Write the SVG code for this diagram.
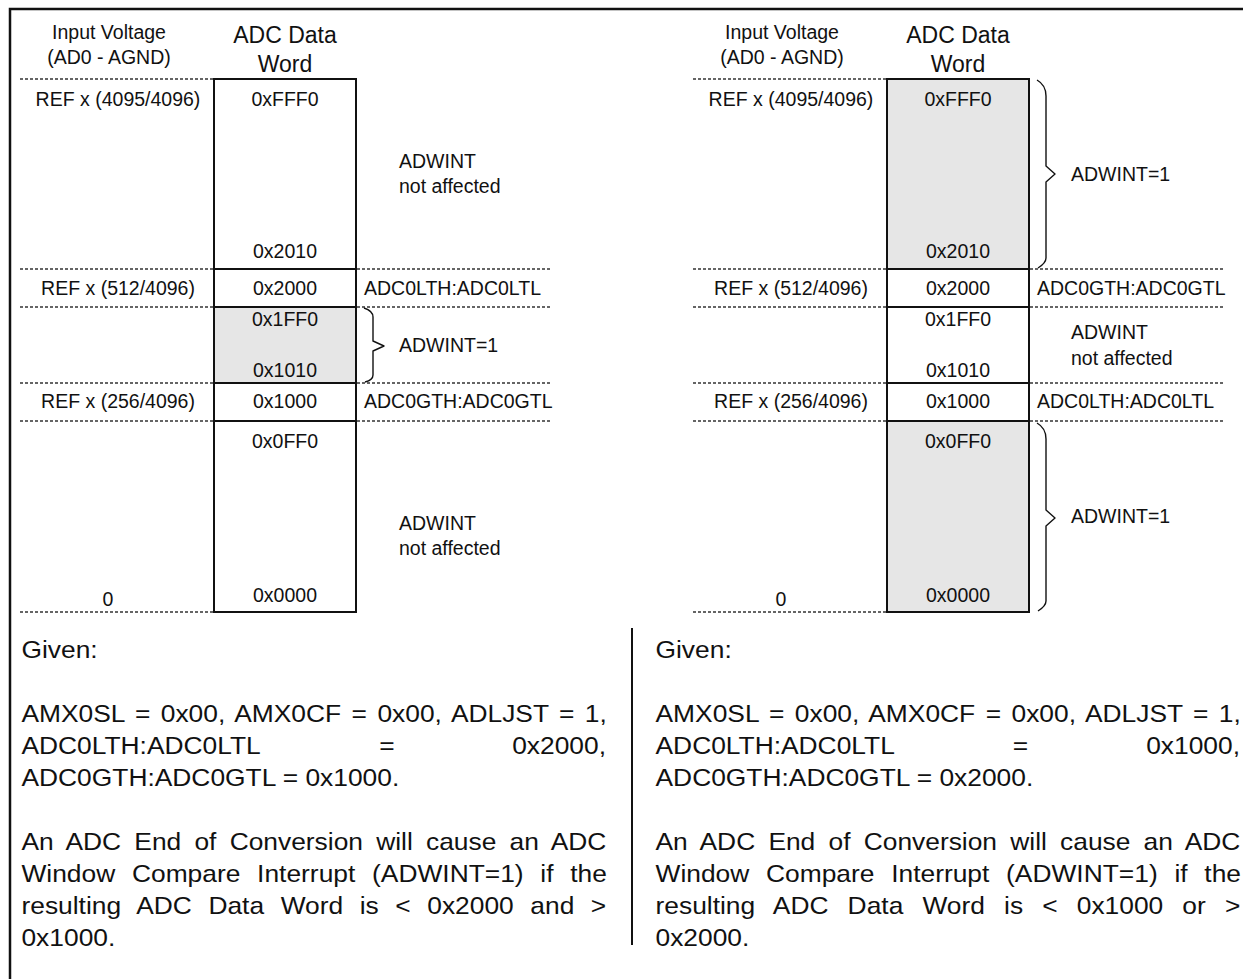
<svg xmlns="http://www.w3.org/2000/svg" width="1243" height="979" viewBox="0 0 1243 979">
<style>
text{font-family:"Liberation Sans",Arial,sans-serif;fill:#111}
.t{font-size:19.5px}
.h{font-size:23px}
.c{text-anchor:middle}
.p{font-size:24.2px}
.box{fill:none;stroke:#111;stroke-width:2}
.sep{stroke:#111;stroke-width:2}
.dash{stroke:#333;stroke-width:1.3;stroke-dasharray:3 2;fill:none}
.gray{fill:#e6e6e6}
.brace{fill:none;stroke:#111;stroke-width:1.4;stroke-linejoin:round}
.frame{stroke:#111;stroke-width:2.5;fill:none}
</style>

<g id="frame">
<path class="frame" d="M10,979 V9 H1243"/>
<line class="sep" x1="632" y1="628" x2="632" y2="945"/>
</g>

<g id="left-diagram">
<rect class="gray" x="214" y="307" width="142" height="76"/>
<g id="left-dashes">
<line class="dash" x1="20" y1="79" x2="213" y2="79"/>
<line class="dash" x1="20" y1="269" x2="213" y2="269"/>
<line class="dash" x1="357" y1="269" x2="552" y2="269"/>
<line class="dash" x1="20" y1="307" x2="213" y2="307"/>
<line class="dash" x1="357" y1="307" x2="552" y2="307"/>
<line class="dash" x1="20" y1="383" x2="213" y2="383"/>
<line class="dash" x1="357" y1="383" x2="552" y2="383"/>
<line class="dash" x1="20" y1="421" x2="213" y2="421"/>
<line class="dash" x1="357" y1="421" x2="552" y2="421"/>
<line class="dash" x1="20" y1="612" x2="213" y2="612"/>
</g>
<rect class="box" x="214" y="79" width="142" height="533"/>
<line class="sep" x1="214" y1="269" x2="356" y2="269"/>
<line class="sep" x1="214" y1="307" x2="356" y2="307"/>
<line class="sep" x1="214" y1="383" x2="356" y2="383"/>
<line class="sep" x1="214" y1="421" x2="356" y2="421"/>
<path class="brace" d="M364,308 Q373,311 373,317 V341 L384,346 L373,351 V375 Q373,380 365,382"/>
<text class="t c" x="109" y="39">Input Voltage</text>
<text class="t c" x="109" y="64">(AD0 - AGND)</text>
<text class="h c" x="285" y="43">ADC Data</text>
<text class="h c" x="285" y="72">Word</text>
<text class="t c" x="118" y="106">REF x (4095/4096)</text>
<text class="t c" x="285" y="106">0xFFF0</text>
<text class="t" x="399" y="168">ADWINT</text>
<text class="t" x="399" y="193">not affected</text>
<text class="t c" x="285" y="258">0x2010</text>
<text class="t c" x="118" y="295">REF x (512/4096)</text>
<text class="t c" x="285" y="295">0x2000</text>
<text class="t" x="364" y="295">ADC0LTH:ADC0LTL</text>
<text class="t c" x="285" y="326">0x1FF0</text>
<text class="t" x="399" y="352">ADWINT=1</text>
<text class="t c" x="285" y="377">0x1010</text>
<text class="t c" x="118" y="408">REF x (256/4096)</text>
<text class="t c" x="285" y="408">0x1000</text>
<text class="t" x="364" y="408">ADC0GTH:ADC0GTL</text>
<text class="t c" x="285" y="448">0x0FF0</text>
<text class="t" x="399" y="530">ADWINT</text>
<text class="t" x="399" y="555">not affected</text>
<text class="t c" x="108" y="606">0</text>
<text class="t c" x="285" y="602">0x0000</text>
</g>

<g id="right-diagram">
<rect class="gray" x="887" y="79" width="142" height="190"/>
<rect class="gray" x="887" y="421" width="142" height="191"/>
<g id="right-dashes">
<line class="dash" x1="693" y1="79" x2="886" y2="79"/>
<line class="dash" x1="693" y1="269" x2="886" y2="269"/>
<line class="dash" x1="1030" y1="269" x2="1225" y2="269"/>
<line class="dash" x1="693" y1="307" x2="886" y2="307"/>
<line class="dash" x1="1030" y1="307" x2="1225" y2="307"/>
<line class="dash" x1="693" y1="383" x2="886" y2="383"/>
<line class="dash" x1="1030" y1="383" x2="1225" y2="383"/>
<line class="dash" x1="693" y1="421" x2="886" y2="421"/>
<line class="dash" x1="1030" y1="421" x2="1225" y2="421"/>
<line class="dash" x1="693" y1="612" x2="886" y2="612"/>
</g>
<rect class="box" x="887" y="79" width="142" height="533"/>
<line class="sep" x1="887" y1="269" x2="1029" y2="269"/>
<line class="sep" x1="887" y1="307" x2="1029" y2="307"/>
<line class="sep" x1="887" y1="383" x2="1029" y2="383"/>
<line class="sep" x1="887" y1="421" x2="1029" y2="421"/>
<path class="brace" d="M1037,80 Q1046,85 1046,96 V166 L1055,174 L1046,182 V258 Q1046,263 1038,268"/>
<path class="brace" d="M1037,423 Q1046,428 1046,439 V510 L1055,518 L1046,526 V601 Q1046,606 1038,611"/>
<text class="t c" x="782" y="39">Input Voltage</text>
<text class="t c" x="782" y="64">(AD0 - AGND)</text>
<text class="h c" x="958" y="43">ADC Data</text>
<text class="h c" x="958" y="72">Word</text>
<text class="t c" x="791" y="106">REF x (4095/4096)</text>
<text class="t c" x="958" y="106">0xFFF0</text>
<text class="t" x="1071" y="181">ADWINT=1</text>
<text class="t c" x="958" y="258">0x2010</text>
<text class="t c" x="791" y="295">REF x (512/4096)</text>
<text class="t c" x="958" y="295">0x2000</text>
<text class="t" x="1037" y="295">ADC0GTH:ADC0GTL</text>
<text class="t c" x="958" y="326">0x1FF0</text>
<text class="t" x="1071" y="339">ADWINT</text>
<text class="t" x="1071" y="365">not affected</text>
<text class="t c" x="958" y="377">0x1010</text>
<text class="t c" x="791" y="408">REF x (256/4096)</text>
<text class="t c" x="958" y="408">0x1000</text>
<text class="t" x="1037" y="408">ADC0LTH:ADC0LTL</text>
<text class="t c" x="958" y="448">0x0FF0</text>
<text class="t" x="1071" y="523">ADWINT=1</text>
<text class="t c" x="781" y="606">0</text>
<text class="t c" x="958" y="602">0x0000</text>
</g>

<g id="left-text" transform="scale(1.09 1)">
<text class="p" x="19.7" y="658">Given:</text>
<text class="p" x="19.7" y="722" word-spacing="2.85">AMX0SL = 0x00, AMX0CF = 0x00, ADLJST = 1,</text>
<text class="p" x="19.7" y="754">ADC0LTH:ADC0LTL</text>
<text class="p c" x="355" y="754">=</text>
<text class="p" x="556" y="754" text-anchor="end">0x2000,</text>
<text class="p" x="19.7" y="786">ADC0GTH:ADC0GTL = 0x1000.</text>
<text class="p" x="19.7" y="850" word-spacing="5.4">An ADC End of Conversion will cause an ADC</text>
<text class="p" x="19.7" y="882" word-spacing="8.64">Window Compare Interrupt (ADWINT=1) if the</text>
<text class="p" x="19.7" y="914" word-spacing="8.47">resulting ADC Data Word is &lt; 0x2000 and &gt;</text>
<text class="p" x="19.7" y="946">0x1000.</text>
</g>

<g id="right-text" transform="scale(1.09 1)">
<text class="p" x="601.4" y="658">Given:</text>
<text class="p" x="601.4" y="722" word-spacing="2.85">AMX0SL = 0x00, AMX0CF = 0x00, ADLJST = 1,</text>
<text class="p" x="601.4" y="754">ADC0LTH:ADC0LTL</text>
<text class="p c" x="936.2" y="754">=</text>
<text class="p" x="1137.6" y="754" text-anchor="end">0x1000,</text>
<text class="p" x="601.4" y="786">ADC0GTH:ADC0GTL = 0x2000.</text>
<text class="p" x="601.4" y="850" word-spacing="5.4">An ADC End of Conversion will cause an ADC</text>
<text class="p" x="601.4" y="882" word-spacing="8.64">Window Compare Interrupt (ADWINT=1) if the</text>
<text class="p" x="601.4" y="914" word-spacing="10.83">resulting ADC Data Word is &lt; 0x1000 or &gt;</text>
<text class="p" x="601.4" y="946">0x2000.</text>
</g>
</svg>
